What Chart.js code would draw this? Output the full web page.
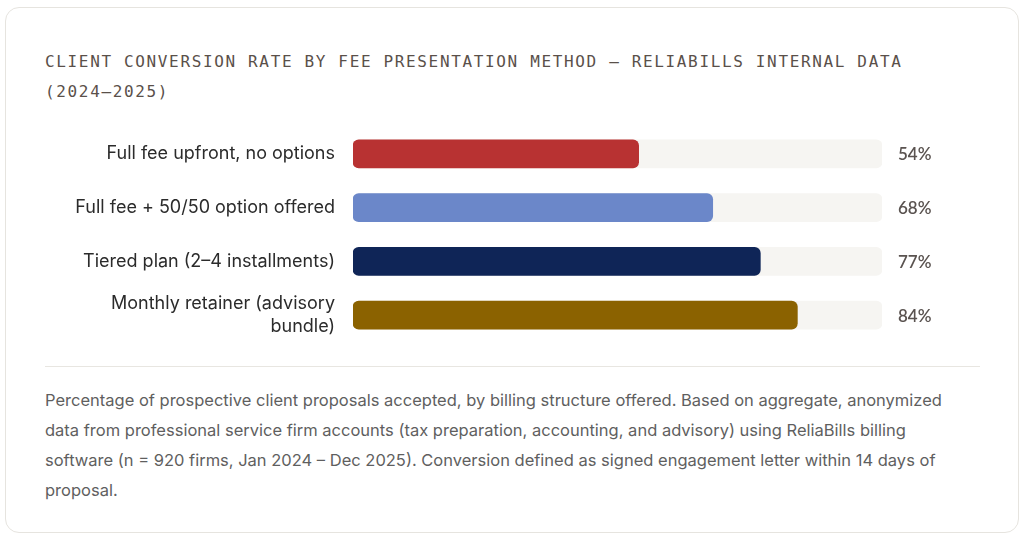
<!DOCTYPE html>
<html>
<head>
<meta charset="utf-8">
<script src="https://cdn.jsdelivr.net/npm/chart.js@4.4.1/dist/chart.umd.min.js"></script>
<style>
  html, body { margin: 0; padding: 0; background: #ffffff; }
  body { width: 1024px; height: 540px; position: relative; overflow: hidden; }
  .card {
    position: absolute; left: 5px; top: 7px; width: 1012px; height: 524px;
    border: 1px solid #e6e4df; border-radius: 14px; background: #fff;
  }
  .title {
    position: absolute; left: 39px; top: 39px; width: 920px;
    font-family: "DejaVu Sans Mono", monospace; font-size: 16px;
    letter-spacing: 1.65px; line-height: 30px; color: #5a504a;
  }
  .chart-wrap { position: absolute; left: 39px; top: 119px; width: 935px; height: 215px; }
  .rule { position: absolute; left: 39px; top: 358px; width: 935px; height: 1px; background: #e8e6e1; }
  .note {
    position: absolute; left: 39px; top: 377px; width: 925px;
    font-family: Inter, sans-serif; font-size: 16.5px; line-height: 30px; color: #5f5f5f;
  }
</style>
</head>
<body>
<div class="card">
  <div class="title">CLIENT CONVERSION RATE BY FEE PRESENTATION METHOD — RELIABILLS INTERNAL DATA (2024–2025)</div>
  <div class="chart-wrap"><canvas id="conversionChart" width="935" height="215"></canvas></div>
  <div class="rule"></div>
  <div class="note">Percentage of prospective client proposals accepted, by billing structure offered. Based on aggregate, anonymized data from professional service firm accounts (tax preparation, accounting, and advisory) using ReliaBills billing software (n = 920 firms, Jan 2024 – Dec 2025). Conversion defined as signed engagement letter within 14 days of proposal.</div>
</div>

<script>
  // fee presentation methods and their conversion rates (%)
  const methods = [
    'Full fee upfront, no options',
    'Full fee + 50/50 option offered',
    'Tiered plan (2–4 installments)',
    ['Monthly retainer (advisory', 'bundle)']
  ];
  const conversionRates = [54, 68, 77, 84];
  const trackValues = [100, 100, 100, 100];
  const barColors = ['#b83232', '#6b87c9', '#0f2557', '#8b6200'];

  // draws the "54%" style labels to the right of the track
  const valueLabels = {
    id: 'valueLabels',
    afterDatasetsDraw(chart) {
      const ctx = chart.ctx;
      const meta = chart.getDatasetMeta(1);
      ctx.save();
      ctx.font = '600 17px Lato, sans-serif';
      ctx.fillStyle = '#5a5350';
      ctx.textAlign = 'left';
      ctx.textBaseline = 'middle';
      meta.data.forEach(function (bar, i) {
        ctx.fillText(conversionRates[i] + '%', chart.chartArea.right + 16, bar.y + 1);
      });
      ctx.restore();
    }
  };

  const ctx = document.getElementById('conversionChart').getContext('2d');

  new Chart(ctx, {
    type: 'bar',
    data: {
      labels: methods,
      datasets: [{
        data: trackValues,
        backgroundColor: '#f6f5f2',
        borderRadius: 6,
        borderSkipped: false,
        barThickness: 28,
        grouped: false,
        order: 2
      }, {
        data: conversionRates,
        backgroundColor: barColors,
        borderRadius: 6,
        borderSkipped: false,
        barThickness: 28,
        grouped: false,
        order: 1
      }]
    },
    options: {
      indexAxis: 'y',
      responsive: false,
      animation: false,
      layout: { padding: { top: 0, bottom: 0, left: 0, right: 98 } },
      scales: {
        x: {
          display: false,
          min: 0,
          max: 100
        },
        y: {
          grid: { display: false, drawTicks: false },
          border: { display: false },
          afterFit: function (scale) {
            // fixed label column, and no extra room above/below for the tall last label
            scale.width = 308;
            scale.paddingTop = 0;
            scale.paddingBottom = 0;
          },
          ticks: {
            padding: 18,
            color: '#2b2b2b',
            font: { family: 'Inter, sans-serif', size: 18, lineHeight: 1.3 }
          }
        }
      },
      plugins: {
        legend: { display: false },
        tooltip: { enabled: false }
      }
    },
    plugins: [valueLabels]
  });
</script>
</body>
</html>
